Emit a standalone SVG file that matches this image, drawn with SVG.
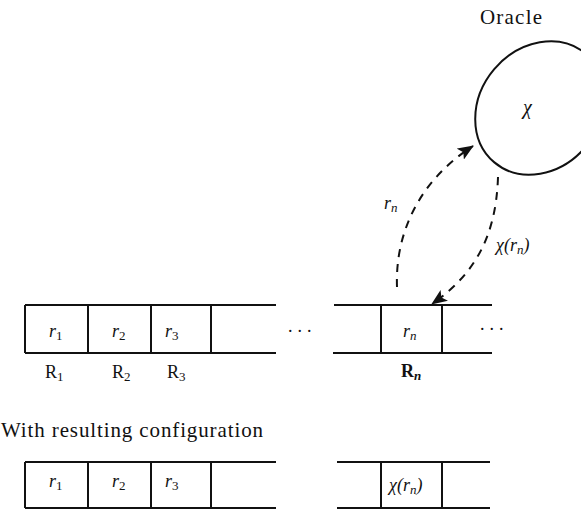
<svg xmlns="http://www.w3.org/2000/svg" width="581" height="510" viewBox="0 0 581 510">
<style>
.ln{stroke:#111;stroke-width:2;fill:none}
.dash{stroke:#111;stroke-width:2;fill:none;stroke-dasharray:8 7}
.t{font-family:"Liberation Serif","Times New Roman",serif;fill:#111}
.it{font-style:italic}
.b{font-weight:bold}
</style>
<defs>
<marker id="ah" viewBox="0 0 16 13" refX="15" refY="6.5" markerWidth="16" markerHeight="13" markerUnits="userSpaceOnUse" orient="auto">
<path d="M0,0 L16,6.5 L0,13 L3.5,6.5 Z" fill="#111"/>
</marker>
</defs>

<g id="oracle">
<text class="t" x="480" y="24" font-size="21" textLength="62">Oracle</text>
<ellipse class="ln" cx="540" cy="108" rx="71" ry="60" transform="rotate(-50 540 108)"/>
<text class="t it" x="523" y="114" font-size="20">χ</text>
</g>

<g id="tape-top">
<line class="ln" x1="25" y1="305" x2="276" y2="305"/>
<line class="ln" x1="25" y1="353" x2="276" y2="353"/>
<line class="ln" x1="25" y1="305" x2="25" y2="353"/>
<line class="ln" x1="88" y1="305" x2="88" y2="353"/>
<line class="ln" x1="151" y1="305" x2="151" y2="353"/>
<line class="ln" x1="211" y1="305" x2="211" y2="353"/>
<text class="t it" x="49" y="337" font-size="18">r<tspan font-size="13" font-style="normal" dy="3">1</tspan></text>
<text class="t it" x="112" y="337" font-size="18">r<tspan font-size="13" font-style="normal" dy="3">2</tspan></text>
<text class="t it" x="165" y="337" font-size="18">r<tspan font-size="13" font-style="normal" dy="3">3</tspan></text>
<text class="t" x="45" y="378" font-size="18">R<tspan font-size="13" dy="3">1</tspan></text>
<text class="t" x="112" y="378" font-size="18">R<tspan font-size="13" dy="3">2</tspan></text>
<text class="t" x="167" y="378" font-size="18">R<tspan font-size="13" dy="3">3</tspan></text>
<text class="t" x="288" y="332" font-size="18" letter-spacing="5">...</text>
</g>

<g id="tape-top-right">
<line class="ln" x1="334" y1="305" x2="492" y2="305"/>
<line class="ln" x1="333" y1="353" x2="492" y2="353"/>
<line class="ln" x1="381" y1="305" x2="381" y2="353"/>
<line class="ln" x1="442" y1="305" x2="442" y2="353"/>
<text class="t it" x="403" y="337" font-size="18">r<tspan font-size="13" dy="3">n</tspan></text>
<text class="t b" x="401" y="377" font-size="18">R<tspan font-size="13" font-style="italic" dy="3">n</tspan></text>
<text class="t" x="480" y="330" font-size="18" letter-spacing="5">...</text>
</g>

<g id="connectors">
<path class="dash" d="M397,287 C395,232 420,180 473,146" marker-end="url(#ah)"/>
<path class="dash" d="M498,177 C496,240 472,276 432,304" marker-end="url(#ah)"/>
<text class="t it" x="384" y="209" font-size="18">r<tspan font-size="13" dy="3">n</tspan></text>
<text class="t it" x="496" y="251" font-size="18">χ(r<tspan font-size="13" dy="3">n</tspan><tspan dy="-3">)</tspan></text>
</g>

<text class="t" x="1" y="437" font-size="21" textLength="262">With resulting configuration</text>

<g id="tape-bottom">
<line class="ln" x1="25" y1="462" x2="276" y2="462"/>
<line class="ln" x1="25" y1="508" x2="276" y2="508"/>
<line class="ln" x1="25" y1="462" x2="25" y2="508"/>
<line class="ln" x1="88" y1="462" x2="88" y2="508"/>
<line class="ln" x1="151" y1="462" x2="151" y2="508"/>
<line class="ln" x1="211" y1="462" x2="211" y2="508"/>
<text class="t it" x="49" y="487" font-size="18">r<tspan font-size="13" font-style="normal" dy="3">1</tspan></text>
<text class="t it" x="112" y="487" font-size="18">r<tspan font-size="13" font-style="normal" dy="3">2</tspan></text>
<text class="t it" x="165" y="487" font-size="18">r<tspan font-size="13" font-style="normal" dy="3">3</tspan></text>
</g>

<g id="tape-bottom-right">
<line class="ln" x1="337" y1="462" x2="490" y2="462"/>
<line class="ln" x1="337" y1="508" x2="490" y2="508"/>
<line class="ln" x1="381" y1="462" x2="381" y2="508"/>
<line class="ln" x1="442" y1="462" x2="442" y2="508"/>
<text class="t it" x="389" y="491" font-size="18">χ(r<tspan font-size="13" dy="3">n</tspan><tspan dy="-3">)</tspan></text>
</g>
</svg>
